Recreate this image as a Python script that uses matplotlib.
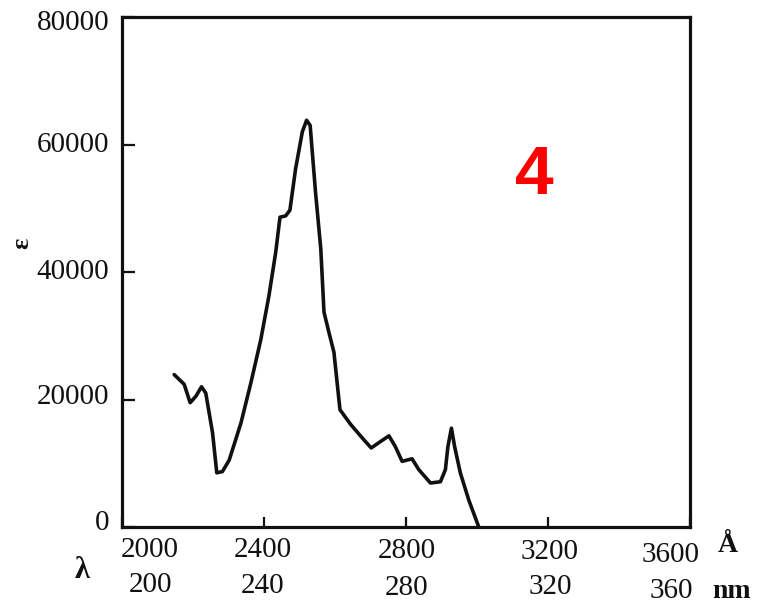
import matplotlib.pyplot as plt
from matplotlib.transforms import ScaledTranslation

# absorption curve (wavelength in Å, molar absorptivity)
wavelength_A = [2147, 2175, 2192, 2208, 2224, 2236, 2255, 2267, 2283, 2302,
                2335, 2363, 2391, 2414, 2433, 2445, 2461, 2473, 2489, 2508,
                2520, 2530, 2545, 2560, 2569, 2583, 2597, 2614, 2644, 2681,
                2702, 2728, 2752, 2770, 2789, 2817, 2836, 2869, 2897, 2911,
                2918, 2928, 2937, 2953, 2977, 3005]
epsilon = [23900, 22400, 19500, 20500, 22000, 21000, 14800, 8500, 8700, 10500,
           16300, 22600, 29400, 36300, 43100, 48600, 48800, 49700, 56200, 62000,
           63800, 63000, 52600, 43600, 33700, 30500, 27400, 18400, 16100, 13700,
           12400, 13400, 14300, 12600, 10300, 10700, 9000, 6900, 7100, 9000,
           12600, 15500, 12600, 8500, 4200, 0]

x_ticks = [2000, 2400, 2800, 3200, 3600]
angstrom_labels = ["2000", "2400", "2800", "3200", "3600"]
nm_labels = ["200", "240", "280", "320", "360"]
y_ticks = [0, 20000, 40000, 60000, 80000]

serif = "Liberation Serif"
ink = "#111111"

fig = plt.figure(figsize=(7.61, 6.05), dpi=100)
ax = fig.add_axes([122 / 761, 78 / 605, 568 / 761, 510 / 605])

ax.plot(wavelength_A, epsilon, color=ink, linewidth=2.6,
        solid_joinstyle="round", solid_capstyle="round")

ax.set_xlim(2000, 3600)
ax.set_ylim(0, 80000)

for side in ax.spines.values():
    side.set_linewidth(2.3)
    side.set_color(ink)

ax.set_xticks(x_ticks)
ax.set_yticks(y_ticks)
ax.tick_params(axis="y", direction="in", length=9, width=1.6, labelleft=False,
               colors=ink)
ax.tick_params(axis="x", direction="in", length=7, width=1.6, labelbottom=False,
               colors=ink)


def px(dx, dy):
    # offset in screen pixels (dpi 100), y down as in the scan
    return ScaledTranslation(dx / 100, -dy / 100, fig.dpi_scale_trans)


# y labels as text so the top one can sit a little low, as printed
y_shift_px = [-4, -3, 0, 0, 6]
for y, dy in zip(y_ticks, y_shift_px):
    tr = ax.get_yaxis_transform() + px(0, dy)
    ax.text(-13 / 568, y, str(y), transform=tr, ha="right", va="center",
            fontfamily=serif, fontsize=21, color=ink)

# two rows of wavelength labels (Å and nm), nudged like the printed ones
x_shift_px = [28, -1, 1, 2, -19]
row1_px = [550, 550, 551, 552, 555]
row2_px = [585, 586, 588, 587, 591]
for x, a_lab, nm_lab, dx, r1, r2 in zip(x_ticks, angstrom_labels, nm_labels,
                                        x_shift_px, row1_px, row2_px):
    ax.text(x, 0, a_lab, transform=ax.get_xaxis_transform() + px(dx, r1 - 527),
            ha="center", va="center", fontfamily=serif, fontsize=21, color=ink)
    ax.text(x, 0, nm_lab, transform=ax.get_xaxis_transform() + px(dx, r2 - 527),
            ha="center", va="center", fontfamily=serif, fontsize=21, color=ink)

fig.text(728 / 761, 1 - 545 / 605, "Å", ha="center", va="center",
         fontfamily=serif, fontsize=20, fontweight="bold", color=ink)
fig.text(732 / 761, 1 - 598 / 605, "nm", ha="center", va="baseline",
         fontfamily=serif, fontsize=20, fontweight="bold", color=ink)
fig.text(82 / 761, 1 - 570 / 605, "λ", ha="center", va="center",
         fontfamily=serif, fontsize=22, fontweight="bold", color=ink)
fig.text(22 / 761, 1 - 243 / 605, "ε", ha="center", va="center", rotation=90,
         fontfamily=serif, fontsize=19, fontweight="bold", color=ink)

fig.text(534 / 761, 1 - 176 / 605, "4", ha="center", va="center",
         fontfamily="Liberation Sans", fontsize=50, fontweight="bold", color="red")

fig.savefig("out.png", dpi=100)
